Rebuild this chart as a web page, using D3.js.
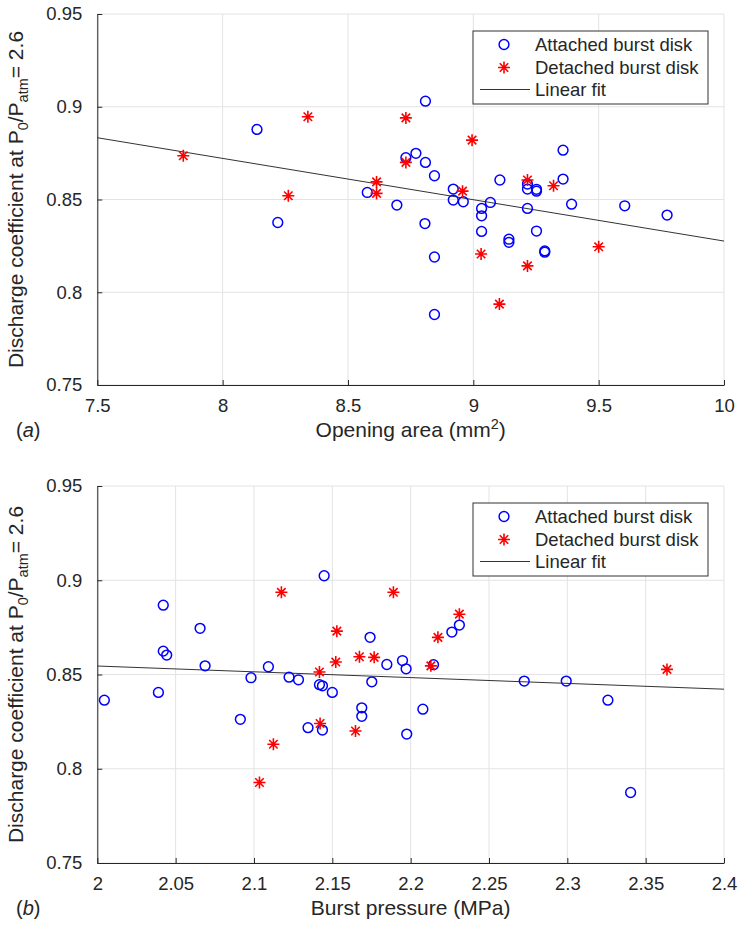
<!DOCTYPE html>
<html>
<head>
<meta charset="utf-8">
<script src="https://cdn.jsdelivr.net/npm/d3@7/dist/d3.min.js"></script>
<style>
  html, body { margin: 0; padding: 0; background: #fff; }
  svg { display: block; font-family: "Liberation Sans", Arial, Helvetica, sans-serif; }
</style>
</head>
<body>
<svg id="chart" width="738" height="925"></svg>
<script>
// ---- Panel (a): discharge coefficient vs opening area (mm^2) ----
const areaAttached = [8.137, 8.22, 8.577, 8.695, 8.731, 8.771, 8.809, 8.809, 8.807, 8.845, 8.845, 8.845,
  8.92, 8.92, 8.96, 9.033, 9.033, 9.033, 9.068, 9.106, 9.142, 9.142, 9.216, 9.216, 9.216, 9.252,
  9.252, 9.252, 9.285, 9.285, 9.358, 9.358, 9.392, 9.604, 9.773];
const cdAreaAttached = [0.8878, 0.8376, 0.8538, 0.847, 0.8725, 0.8749, 0.903, 0.870, 0.837, 0.8628, 0.819, 0.788,
  0.8556, 0.8497, 0.8488, 0.8452, 0.8412, 0.8328, 0.8484, 0.8605, 0.8286, 0.8269, 0.8452, 0.8583, 0.8556, 0.8555,
  0.8545, 0.833, 0.8223, 0.8216, 0.8766, 0.861, 0.8475, 0.8466, 0.8416];
const areaDetached = [7.843, 8.262, 8.34, 8.614, 8.614, 8.731, 8.731, 8.957, 8.995, 9.031, 9.104, 9.216, 9.216, 9.32, 9.5];
const cdAreaDetached = [0.8736, 0.852, 0.8946, 0.8595, 0.8533, 0.894, 0.870, 0.8545, 0.882, 0.8206, 0.7936, 0.8605, 0.8142, 0.8574, 0.8245];
const areaFit = [7.5, 10];
const cdAreaFit = [0.8833, 0.8276];
const areaTicks = [7.5, 8, 8.5, 9, 9.5, 10];

// ---- Panel (b): discharge coefficient vs burst pressure (MPa) ----
const pressAttached = [2.0045, 2.039, 2.0421, 2.0421, 2.0443, 2.0656, 2.0688, 2.0913, 2.0981, 2.1092, 2.1224, 2.1284,
  2.1345, 2.1418, 2.1437, 2.1437, 2.1448, 2.150, 2.1688, 2.1688, 2.1741, 2.1752, 2.1848, 2.1948, 2.1971, 2.1975,
  2.2078, 2.2146, 2.2263, 2.2311, 2.2725, 2.2993, 2.3259, 2.3404];
const cdPressAttached = [0.8364, 0.8405, 0.8868, 0.8624, 0.8603, 0.8745, 0.8546, 0.8262, 0.8483, 0.8541, 0.8486, 0.8472,
  0.8218, 0.8446, 0.844, 0.8205, 0.9024, 0.8405, 0.8323, 0.8278, 0.8697, 0.8461, 0.8553, 0.8574, 0.853, 0.8184,
  0.8316, 0.8552, 0.8725, 0.8762, 0.8465, 0.8465, 0.8364, 0.7874];
const pressDetached = [2.1035, 2.1124, 2.1175, 2.1418, 2.1422, 2.1522, 2.1529, 2.1648, 2.1673, 2.1767, 2.189, 2.2129, 2.2174, 2.2311, 2.3636];
const cdPressDetached = [0.7927, 0.813, 0.8936, 0.8513, 0.824, 0.8566, 0.873, 0.82, 0.8594, 0.8591, 0.8936, 0.8546, 0.8697, 0.882, 0.8527];
const pressFit = [2.0, 2.4];
const cdPressFit = [0.8545, 0.8422];
const pressTicks = [2, 2.05, 2.1, 2.15, 2.2, 2.25, 2.3, 2.35, 2.4];

const cdTicks = [0.75, 0.8, 0.85, 0.9, 0.95];
const legendLabels = ["Attached burst disk", "Detached burst disk", "Linear fit"];

const svg = d3.select("#chart");
const TEXT = "#262626";
const GRID = "#e3e3e3";
const BLUE = "#0000ff";
const RED = "#ff0000";

const zip = (a, b) => a.map((v, i) => [v, b[i]]);

// asterisk marker: plus and cross overlaid
function starPath(r) {
  const d = r * Math.SQRT1_2;
  return `M${-r},0L${r},0M0,${-r}L0,${r}M${-d},${-d}L${d},${d}M${-d},${d}L${d},${-d}`;
}

function drawPanel(opt) {
  const g = svg.append("g");
  const x = d3.scaleLinear().domain(opt.xDomain).range([opt.left, opt.right]);
  const y = d3.scaleLinear().domain([0.75, 0.95]).range([opt.bottom, opt.top]);

  // grid
  g.append("g").selectAll("line").data(opt.xTicks).join("line")
    .attr("x1", d => x(d)).attr("x2", d => x(d))
    .attr("y1", opt.top).attr("y2", opt.bottom)
    .attr("stroke", GRID).attr("stroke-width", 1);
  g.append("g").selectAll("line").data(cdTicks).join("line")
    .attr("x1", opt.left).attr("x2", opt.right)
    .attr("y1", d => y(d)).attr("y2", d => y(d))
    .attr("stroke", GRID).attr("stroke-width", 1);

  // axes (ticks pointing inward)
  const xAxis = d3.axisBottom(x).tickValues(opt.xTicks).tickFormat(d3.format("~g"))
    .tickSizeInner(-5).tickSizeOuter(0).tickPadding(14);
  const yAxis = d3.axisLeft(y).tickValues(cdTicks).tickFormat(d3.format("~g"))
    .tickSizeInner(-5).tickSizeOuter(0).tickPadding(15);

  const gx = g.append("g").attr("transform", `translate(0,${opt.bottom})`).call(xAxis);
  const gy = g.append("g").attr("transform", `translate(${opt.left},0)`).call(yAxis);
  [gx, gy].forEach(ax => {
    ax.select(".domain").attr("stroke", TEXT).attr("stroke-width", 1);
    ax.selectAll(".tick line").attr("stroke", TEXT);
    ax.selectAll(".tick text").attr("fill", TEXT)
      .style("font-size", "18.5px").style("font-family", "\"Liberation Sans\", Arial, sans-serif");
  });
  gx.selectAll(".tick text").attr("dy", "0.71em");

  // fit line
  g.append("path")
    .datum(zip(opt.fitX, opt.fitY))
    .attr("d", d3.line().x(d => x(d[0])).y(d => y(d[1])))
    .attr("fill", "none").attr("stroke", "#333").attr("stroke-width", 1);

  // attached (open circles)
  g.append("g").selectAll("circle").data(zip(opt.ax, opt.ay)).join("circle")
    .attr("cx", d => x(d[0])).attr("cy", d => y(d[1])).attr("r", 4.9)
    .attr("fill", "none").attr("stroke", BLUE).attr("stroke-width", 1.5);

  // detached (asterisks)
  g.append("g").selectAll("path").data(zip(opt.dx, opt.dy)).join("path")
    .attr("transform", d => `translate(${x(d[0])},${y(d[1])})`)
    .attr("d", starPath(6))
    .attr("fill", "none").attr("stroke", RED).attr("stroke-width", 1.6);

  // y label with sub-scripts
  const yl = g.append("text")
    .attr("transform", `translate(23,${(opt.top + opt.bottom) / 2}) rotate(-90)`)
    .attr("text-anchor", "middle").attr("fill", TEXT)
    .style("font-size", "21px");
  yl.append("tspan").text("Discharge coefficient at P");
  yl.append("tspan").attr("baseline-shift", "-30%").style("font-size", "14.5px").text("0");
  yl.append("tspan").text("/P");
  yl.append("tspan").attr("baseline-shift", "-30%").style("font-size", "14.5px").text("atm");
  yl.append("tspan").text("= 2.6");

  // x label
  const xl = g.append("text")
    .attr("x", (opt.left + opt.right) / 2).attr("y", opt.bottom + 52)
    .attr("text-anchor", "middle").attr("fill", TEXT)
    .style("font-size", "21px");
  opt.xLabel(xl);

  // panel tag
  const tag = g.append("text").attr("x", 16).attr("y", opt.bottom + 52)
    .attr("fill", TEXT).style("font-size", "20px");
  tag.append("tspan").text("(");
  tag.append("tspan").style("font-style", "italic").text(opt.tag);
  tag.append("tspan").text(")");

  // legend
  const lx = opt.right - 251, ly = opt.top + 17;
  const lg = g.append("g").attr("transform", `translate(${lx},${ly})`);
  lg.append("rect").attr("width", 235).attr("height", 73)
    .attr("fill", "#fff").attr("stroke", "#333").attr("stroke-width", 1);
  const rows = [13.5, 36.5, 58.5];
  lg.append("circle").attr("cx", 31).attr("cy", rows[0]).attr("r", 4.9)
    .attr("fill", "none").attr("stroke", BLUE).attr("stroke-width", 1.5);
  lg.append("path").attr("transform", `translate(31,${rows[1]})`).attr("d", starPath(6))
    .attr("fill", "none").attr("stroke", RED).attr("stroke-width", 1.6);
  lg.append("line").attr("x1", 7).attr("x2", 57).attr("y1", rows[2]).attr("y2", rows[2])
    .attr("stroke", "#333").attr("stroke-width", 1);
  lg.selectAll("text.lbl").data(legendLabels).join("text").attr("class", "lbl")
    .attr("x", 62).attr("y", (d, i) => rows[i]).attr("dy", "0.35em")
    .attr("fill", TEXT).style("font-size", "18.5px").text(d => d);
}

drawPanel({
  left: 97.3, right: 724, top: 14, bottom: 385,
  xDomain: [7.5, 10], xTicks: areaTicks,
  ax: areaAttached, ay: cdAreaAttached, dx: areaDetached, dy: cdAreaDetached,
  fitX: areaFit, fitY: cdAreaFit, tag: "a",
  xLabel: t => {
    t.append("tspan").text("Opening area (mm");
    t.append("tspan").attr("baseline-shift", "super").style("font-size", "14.5px").text("2");
    t.append("tspan").text(")");
  }
});

drawPanel({
  left: 97.3, right: 724, top: 486, bottom: 863,
  xDomain: [2.0, 2.4], xTicks: pressTicks,
  ax: pressAttached, ay: cdPressAttached, dx: pressDetached, dy: cdPressDetached,
  fitX: pressFit, fitY: cdPressFit, tag: "b",
  xLabel: t => t.text("Burst pressure (MPa)")
});
</script>
</body>
</html>
